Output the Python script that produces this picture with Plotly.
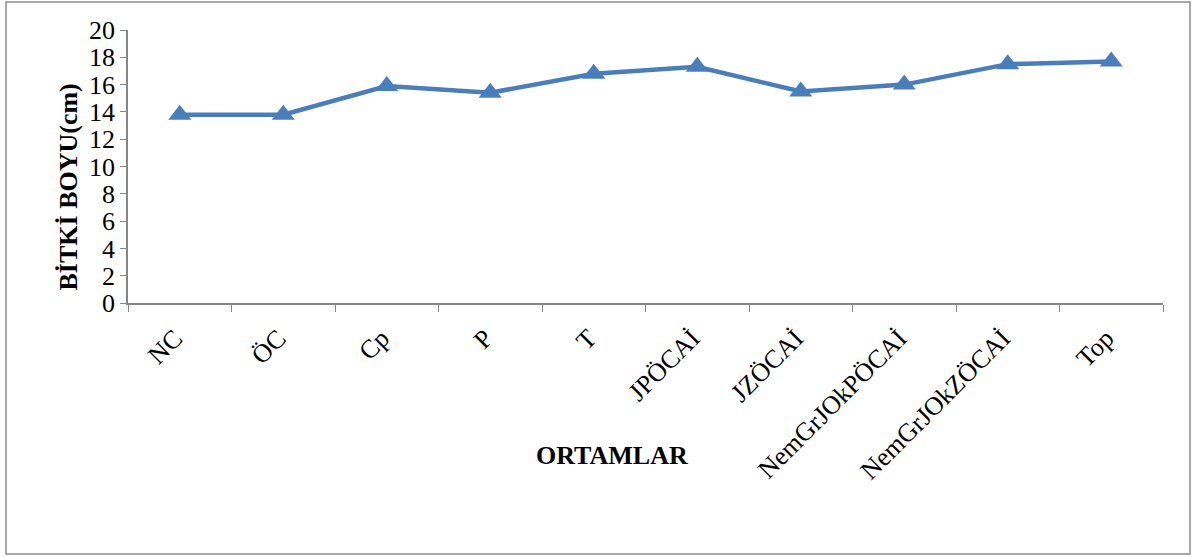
import plotly.graph_objects as go

# Plant height by growth medium
categories = ["NC", "ÖC", "Cp", "P", "T", "JPÖCAİ", "JZÖCAİ",
              "NemGrJOkPÖCAİ", "NemGrJOkZÖCAİ", "Top"]
heights = [13.8, 13.8, 15.9, 15.4, 16.8, 17.3, 15.5, 16.0, 17.5, 17.7]
y_ticks = list(range(0, 21, 2))

W, H = 1195, 557
L, R, T, B = 128, 32, 30, 254
pw, ph = W - L - R, H - T - B

def px(x):
    return (x - L) / pw

def py(y):
    return (H - B - y) / ph

font = "Liberation Serif, Times New Roman, serif"
axis_col = "#868686"

fig = go.Figure(go.Scatter(
    x=categories, y=heights, mode="lines+markers",
    line=dict(color="#4A7EBB", width=4.5),
    marker=dict(symbol="triangle-up", size=20, color="#4A7EBB"),
    showlegend=False,
))

fig.update_layout(
    width=W, height=H,
    margin=dict(l=L, r=R, t=T, b=B),
    paper_bgcolor="white", plot_bgcolor="white",
    font=dict(family=font, color="black"),
    xaxis=dict(
        type="category", range=[-0.5, len(categories) - 0.5],
        tickson="boundaries", ticks="outside", ticklen=7, tickcolor=axis_col,
        showline=True, linecolor=axis_col, linewidth=1.5,
        showgrid=False, zeroline=False,
        tickangle=-45, tickfont=dict(size=26, family=font),
        ticklabelstandoff=8, ticklabelshift=-5,
    ),
    yaxis=dict(
        range=[0, 20], tickvals=y_ticks,
        ticks="outside", ticklen=6, tickcolor=axis_col,
        showline=True, linecolor=axis_col, linewidth=1.5,
        showgrid=False, zeroline=False,
        tickfont=dict(size=26, family=font),
    ),
    shapes=[dict(
        type="rect", xref="paper", yref="paper",
        x0=px(6), x1=px(1190), y0=py(554), y1=py(2),
        line=dict(color="#8c8c8c", width=1.5), fillcolor="rgba(0,0,0,0)",
        layer="below",
    )],
    annotations=[
        dict(text="<b>ORTAMLAR</b>", xref="paper", yref="paper",
             x=px(612), y=py(472), showarrow=False,
             font=dict(size=26, family=font)),
        dict(text="<b>BİTKİ BOYU(cm)</b>", xref="paper", yref="paper",
             x=px(51), y=py(187), showarrow=False, textangle=-90,
             font=dict(size=26, family=font)),
    ],
)

fig.write_html("out.html")
